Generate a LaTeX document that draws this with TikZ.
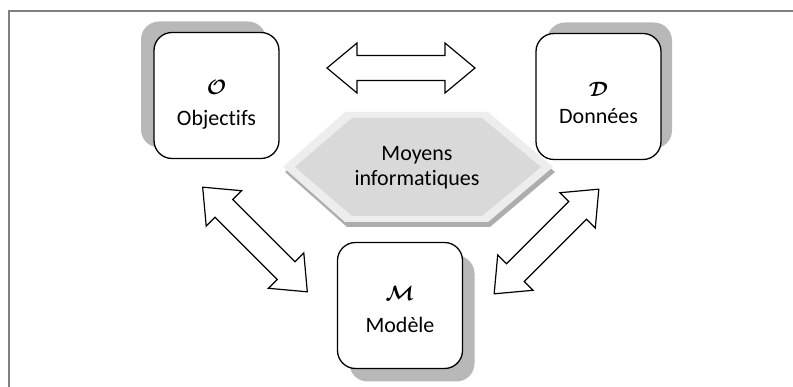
\documentclass[tikz,border=0pt]{standalone}
\usepackage{amsmath}
\usepackage{fontspec}
\setmainfont{Carlito}[Ligatures={NoCommon,NoContextual}]
\usetikzlibrary{shadows}
\definecolor{framegray}{HTML}{7F7F7F}
\tikzset{
  box/.style={draw=black, line width=1.3pt, fill=white, rounded corners=18pt,
    minimum width=125pt, minimum height=126pt, inner sep=0pt},
  lbl/.style={anchor=base, inner sep=0pt, font=\fontsize{22}{26}\selectfont},
  sym/.style={anchor=base, inner sep=0pt, font=\fontsize{21}{24}\selectfont},
  pics/dblarrow/.style={code={
    \draw[line width=1.2pt, fill=white, line join=miter]
      (-74,0) -- (-44,-25) -- (-44,-12.5) -- (44,-12.5) -- (44,-25) -- (74,0)
      -- (44,25) -- (44,12.5) -- (-44,12.5) -- (-44,25) -- cycle;
  }}
}
\begin{document}
\begin{tikzpicture}[x=1pt,y=-1pt]
\useasboundingbox (0,0) rectangle (793,387);
% frame
\draw[framegray, line width=2pt] (793,11) -- (9,11) -- (9,387);
% hexagon
\fill[black!32] (285,172) -- (347,117) -- (490,117) -- (555,172) -- (490,227) -- (347,227) -- cycle;
\fill[black!7] (283,167) -- (345,112) -- (488,112) -- (553,167) -- (488,222) -- (345,222) -- cycle;
\fill[black!15] (295,167) -- (352,118) -- (482,118) -- (541,167) -- (482,216) -- (352,216) -- cycle;
\node[align=center, inner sep=0pt, font=\fontsize{22}{25}\selectfont] (moy) at (417,168) {Moyens\\informatiques};
% arrows
\pic (aOD) at (401,68) {dblarrow};
\pic[rotate=-45] (aOM) at (255,239.5) {dblarrow};
\pic[rotate=45] (aDM) at (546.5,241.5) {dblarrow};
% boxes
\node[box, drop shadow={shadow xshift=-13pt, shadow yshift=11pt, fill=black!28, opacity=1}] (O) at (216.5,95.5) {};
\node[box, drop shadow={shadow xshift=11pt, shadow yshift=11pt, fill=black!28, opacity=1}] (D) at (598.5,96.5) {};
\node[box, drop shadow={shadow xshift=12pt, shadow yshift=-13pt, fill=black!28, opacity=1}] (M) at (400,305.5) {};
% texts
\node[sym] (Os) at ([yshift=1pt]O.center) {$\boldsymbol{\mathcal{O}}$};
\node[lbl] (Ot) at ([yshift=-30pt]O.center) {Objectifs};
\node[sym] (Ds) at ([yshift=0pt]D.center) {$\boldsymbol{\mathcal{D}}$};
\node[lbl] (Dt) at ([yshift=-27pt]D.center) {Données};
\node[sym] (Ms) at ([yshift=5pt]M.center) {$\boldsymbol{\mathcal{M}}$};
\node[lbl] (Mt) at ([yshift=-27pt]M.center) {Modèle};
\end{tikzpicture}
\end{document}
